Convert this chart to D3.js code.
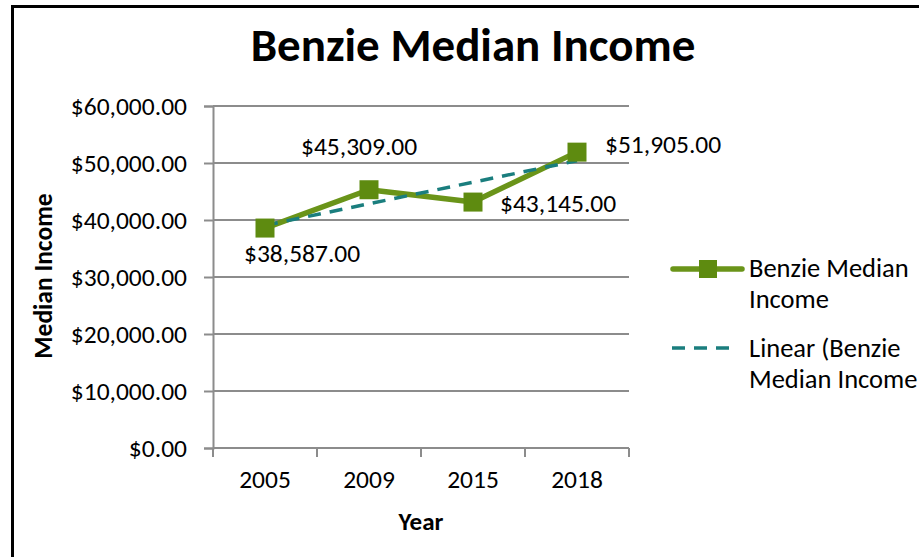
<!DOCTYPE html>
<html>
<head>
<meta charset="utf-8">
<script src="https://cdn.jsdelivr.net/npm/d3@7"></script>
<style>
  body { margin: 0; background: #fff; }
  svg { display: block; font-family: Carlito, Calibri, Lato, sans-serif; }
</style>
</head>
<body>
<div id="chart"></div>
<script>
const years = ['2005', '2009', '2015', '2018'];
const income = [38587, 45309, 43145, 51905];
const yTicks = [0, 10000, 20000, 30000, 40000, 50000, 60000];
const legendLines = [
    ['Benzie Median', 'Income'],
    ['Linear (Benzie', 'Median Income']
];

// where each data label sits relative to its point (text-anchor start)
const labelOffsets = [[-21, 34], [-68, -35], [27, 10], [28, 1]];

const W = 919, H = 557;
const MARGIN = {TOP: 106, LEFT: 213};
const PLOT_W = 416, PLOT_H = 342;
const FS = 25.5;

const GREEN_LINE = '#6a9419';
const GREEN_MARK = '#5e8b10';
const TEAL = '#1a7e7e';
const GRID = '#8c8c8c';
const money = d3.format('$,.2f');

const svg = d3.select('#chart').append('svg')
    .attr('width', W)
    .attr('height', H);

svg.append('rect')
    .attr('width', W).attr('height', H)
    .attr('fill', '#fff');

// outer chart border (right/bottom fall outside the frame)
svg.append('rect')
    .attr('x', 12.5).attr('y', 6.5)
    .attr('width', 1000).attr('height', 800)
    .attr('fill', 'none')
    .attr('stroke', '#000')
    .attr('stroke-width', 3);

svg.append('text')
    .attr('x', 473)
    .attr('y', 61)
    .attr('text-anchor', 'middle')
    .attr('font-size', 47)
    .attr('font-weight', 'bold')
    .text('Benzie Median Income');

const g = svg.append('g')
    .attr('transform', `translate(${MARGIN.LEFT}, ${MARGIN.TOP})`);

const x = d3.scaleBand()
    .domain(years)
    .range([0, PLOT_W]);

const y = d3.scaleLinear()
    .domain([0, 60000])
    .range([PLOT_H, 0]);

// gridlines
g.selectAll('.grid')
    .data(yTicks.slice(1))
    .enter().append('line')
        .attr('x1', 0).attr('x2', PLOT_W)
        .attr('y1', d => y(d)).attr('y2', d => y(d))
        .attr('stroke', GRID)
        .attr('stroke-width', 2);

// y axis
const yAxis = g.append('g')
    .call(d3.axisLeft(y).tickValues(yTicks).tickFormat(money).tickSize(9).tickPadding(17))
    .attr('font-family', null)
    .attr('font-size', FS);
yAxis.select('.domain').attr('stroke', GRID).attr('stroke-width', 2);
yAxis.selectAll('.tick line').attr('stroke', GRID).attr('stroke-width', 2);
yAxis.selectAll('.tick text').attr('fill', '#000');

// x axis, ticks at category boundaries
const xAxis = g.append('g')
    .attr('transform', `translate(0, ${PLOT_H})`)
    .call(d3.axisBottom(x).tickSize(0).tickPadding(22))
    .attr('font-family', null)
    .attr('font-size', FS);
xAxis.select('.domain').remove();
xAxis.selectAll('.tick text').attr('fill', '#000');
xAxis.append('line')
    .attr('x1', 0).attr('x2', PLOT_W)
    .attr('stroke', GRID).attr('stroke-width', 2);
xAxis.selectAll('.bound')
    .data(years.map(d => x(d)).concat([PLOT_W]))
    .enter().append('line')
        .attr('x1', d => d).attr('x2', d => d)
        .attr('y1', 0).attr('y2', 9)
        .attr('stroke', GRID).attr('stroke-width', 2);

const cx = d => x(d) + x.bandwidth() / 2;

// series line
const line = d3.line()
    .x((d, i) => cx(years[i]))
    .y(d => y(d));

g.append('path')
    .datum(income)
    .attr('d', line)
    .attr('fill', 'none')
    .attr('stroke', GREEN_LINE)
    .attr('stroke-width', 5.5)
    .attr('stroke-linejoin', 'round');

// linear trendline (least squares on category index)
const idx = income.map((d, i) => i + 1);
const mx = d3.mean(idx), my = d3.mean(income);
const slope = d3.sum(idx, (t, i) => (t - mx) * (income[i] - my)) / d3.sum(idx, t => (t - mx) ** 2);
const icpt = my - slope * mx;
const trend = [idx[0], idx[idx.length - 1]];

g.append('path')
    .datum(trend)
    .attr('d', d3.line()
        .x(t => cx(years[t - 1]))
        .y(t => y(icpt + slope * t)))
    .attr('fill', 'none')
    .attr('stroke', TEAL)
    .attr('stroke-width', 3.5)
    .attr('stroke-dasharray', '13,9');

// markers
const MS = 19;
g.selectAll('.mark')
    .data(income)
    .enter().append('rect')
        .attr('x', (d, i) => cx(years[i]) - MS / 2)
        .attr('y', d => y(d) - MS / 2)
        .attr('width', MS).attr('height', MS)
        .attr('fill', GREEN_MARK);

// data labels
g.selectAll('.lbl')
    .data(income)
    .enter().append('text')
        .attr('x', (d, i) => cx(years[i]) + labelOffsets[i][0])
        .attr('y', (d, i) => y(d) + labelOffsets[i][1])
        .attr('font-size', FS)
        .text(d => money(d));

// axis titles
svg.append('text')
    .attr('transform', 'translate(52, 276) rotate(-90)')
    .attr('text-anchor', 'middle')
    .attr('font-size', 25.5)
    .attr('font-weight', 'bold')
    .text('Median Income');

svg.append('text')
    .attr('x', 421)
    .attr('y', 530)
    .attr('text-anchor', 'middle')
    .attr('font-size', 25)
    .attr('font-weight', 'bold')
    .text('Year');

// legend
const leg = svg.append('g');
leg.append('line')
    .attr('x1', 673).attr('x2', 742)
    .attr('y1', 269).attr('y2', 269)
    .attr('stroke', GREEN_LINE).attr('stroke-width', 5.5)
    .attr('stroke-linecap', 'round');
leg.append('rect')
    .attr('x', 699).attr('y', 260)
    .attr('width', 18).attr('height', 18)
    .attr('fill', GREEN_MARK);
leg.append('line')
    .attr('x1', 672).attr('x2', 730)
    .attr('y1', 348).attr('y2', 348)
    .attr('stroke', TEAL).attr('stroke-width', 3.5)
    .attr('stroke-dasharray', '13,9');

leg.selectAll('.lt')
    .data(legendLines)
    .enter().append('text')
        .attr('x', 749)
        .attr('y', (d, i) => i === 0 ? 277 : 357)
        .attr('font-size', 26.5)
        .selectAll('tspan')
        .data(d => d)
        .enter().append('tspan')
            .attr('x', 749)
            .attr('dy', (d, i) => i === 0 ? 0 : 31)
            .text(d => d);
</script>
</body>
</html>
